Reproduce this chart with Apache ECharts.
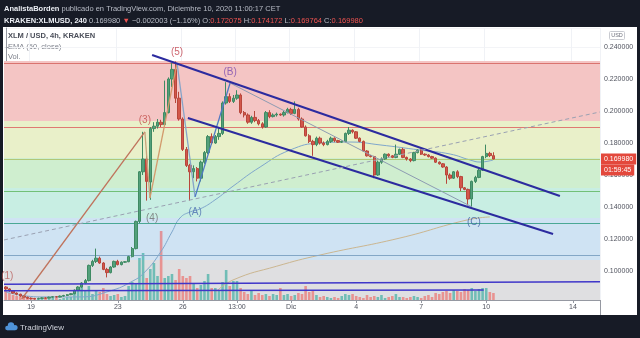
<!doctype html>
<html>
<head>
<meta charset="utf-8">
<script src="https://cdn.jsdelivr.net/npm/echarts@6/dist/echarts.min.js"></script>
<style>
html, body { margin: 0; padding: 0; background: #171b26; }
#main { width: 640px; height: 338px; }
</style>
</head>
<body>
<div id="main"></div>
<script>
var chart = echarts.init(document.getElementById('main'));

// 4h slots, slot 7 = Nov 19 00:00
var SLOT_COUNT = 165;
var Y_MIN = 0.081875, Y_MAX = 0.251875;

var tickSlots = [7, 31, 49, 64, 79, 97, 115, 133, 157];
var tickLabels = ['19', '23', '26', '13:00', 'Dic', '4', '7', '10', '14'];

// [open, close, low, high]
var candles = [
    [.0900,.0888,.0880,.0905],[.0888,.0875,.0870,.0892],[.0875,.0862,.0858,.0880],[.0862,.0855,.0848,.0866],
    [.0855,.0843,.0838,.0858],[.0843,.0836,.0830,.0847],[.0836,.0830,.0826,.0840],[.0830,.0828,.0822,.0835],
    [.0828,.0826,.0822,.0832],[.0826,.0829,.0823,.0833],[.0829,.0832,.0826,.0836],[.0832,.0830,.0827,.0836],
    [.0830,.0836,.0828,.0840],[.0836,.0839,.0833,.0843],[.0839,.0837,.0834,.0843],[.0837,.0843,.0835,.0847],
    [.0843,.0847,.0840,.0851],[.0847,.0852,.0844,.0856],[.0852,.0858,.0849,.0862],[.0858,.0880,.0855,.0885],
    [.0880,.0900,.0875,.0905],[.0900,.0925,.0895,.0930],[.0925,.0940,.0918,.0950],[.0940,.1035,.0935,.1040],
    [.1035,.1060,.1025,.1070],[.1060,.1080,.1050,.1140],[.1080,.1050,.1045,.1090],[.1050,.1010,.1005,.1055],
    [.1010,.0990,.0960,.1020],[.0990,.1025,.0985,.1030],[.1025,.1060,.1020,.1065],[.1060,.1040,.1035,.1070],
    [.1040,.1055,.1035,.1060],[.1055,.1058,.1050,.1062],[.1058,.1090,.1055,.1095],[.1090,.1140,.1085,.1150],
    [.1140,.1310,.1135,.1315],[.1310,.1620,.1300,.1625],[.1620,.1700,.1600,.1870],[.1700,.1560,.1440,.1720],
    [.1556,.1890,.1445,.1900],[.1890,.1905,.1870,.1930],[.1905,.1930,.1890,.1950],[.1930,.1915,.1900,.1945],
    [.1915,.1990,.1905,.2190],[.1990,.2200,.1985,.2210],[.2200,.2260,.2150,.2300],[.2260,.2080,.2050,.2310],
    [.2080,.1950,.1940,.2120],[.1950,.1760,.1750,.1960],[.1760,.1660,.1650,.1775],[.1660,.1620,.1440,.1670],
    [.1620,.1640,.1580,.1660],[.1640,.1580,.1560,.1650],[.1580,.1680,.1560,.1690],[.1680,.1740,.1670,.1750],
    [.1740,.1840,.1730,.1850],[.1840,.1800,.1790,.1860],[.1800,.1840,.1795,.1850],[.1840,.1860,.1820,.1900],
    [.1860,.2050,.1850,.2060],[.2050,.2090,.2040,.2180],[.2090,.2060,.2050,.2110],[.2060,.2080,.2050,.2100],
    [.2080,.2100,.2070,.2130],[.2100,.1990,.1980,.2110],[.1990,.1975,.1960,.2000],[.1975,.1930,.1920,.1985],
    [.1930,.1960,.1920,.1970],[.1960,.1940,.1930,.2000],[.1940,.1920,.1910,.1950],[.1920,.1900,.1890,.1930],
    [.1900,.1990,.1895,.2000],[.1990,.1965,.1955,.2005],[.1965,.1975,.1960,.1985],[.1975,.1980,.1965,.1990],
    [.1980,.1975,.1970,.1985],[.1975,.1990,.1965,.2000],[.1990,.2010,.1985,.2020],[.2010,.1985,.1975,.2020],
    [.1985,.2010,.1980,.2060],[.2010,.1950,.1940,.2020],[.1950,.1900,.1895,.1960],[.1900,.1845,.1840,.1910],
    [.1845,.1810,.1800,.1855],[.1810,.1790,.1720,.1820],[.1790,.1830,.1780,.1840],[.1830,.1800,.1790,.1840],
    [.1800,.1790,.1780,.1810],[.1790,.1810,.1785,.1820],[.1810,.1830,.1800,.1840],[.1830,.1815,.1805,.1835],
    [.1815,.1805,.1800,.1820],[.1805,.1810,.1800,.1815],[.1810,.1860,.1805,.1865],[.1860,.1880,.1850,.1900],
    [.1880,.1870,.1860,.1885],[.1870,.1830,.1825,.1875],[.1830,.1810,.1805,.1835],[.1810,.1750,.1745,.1815],
    [.1750,.1720,.1715,.1755],[.1720,.1715,.1710,.1725],[.1715,.1600,.1580,.1720],[.1600,.1680,.1595,.1690],
    [.1680,.1700,.1670,.1710],[.1700,.1730,.1695,.1735],[.1730,.1720,.1710,.1735],[.1720,.1710,.1705,.1725],
    [.1710,.1730,.1705,.1790],[.1730,.1760,.1725,.1765],[.1760,.1710,.1705,.1770],[.1710,.1700,.1690,.1715],
    [.1700,.1690,.1680,.1705],[.1690,.1740,.1685,.1745],[.1740,.1755,.1735,.1760],[.1755,.1730,.1725,.1760],
    [.1730,.1725,.1720,.1735],[.1725,.1715,.1710,.1730],[.1715,.1705,.1700,.1720],[.1705,.1680,.1675,.1710],
    [.1680,.1670,.1665,.1685],[.1670,.1650,.1645,.1675],[.1650,.1600,.1545,.1655],[.1600,.1580,.1570,.1610],
    [.1580,.1620,.1575,.1625],[.1620,.1590,.1580,.1630],[.1590,.1520,.1500,.1595],[.1520,.1510,.1505,.1525],
    [.1510,.1450,.1410,.1515],[.1450,.1560,.1400,.1565],[.1560,.1585,.1550,.1595],[.1585,.1630,.1580,.1640],
    [.1630,.1715,.1625,.1720],[.1715,.1735,.1705,.1790],[.1735,.1721,.1712,.1745],[.1721,.1700,.1698,.1742]
];

var volumes = [
    9, 7, 5, 4, 3,
    2, 2, 1, 2, 1, 2, 2, 1, 2, 2, 1, 2, 3, 3,
    8, 10, 14, 9, 14,
    6, 10, 8, 12, 6, 4, 5, 6, 3, 4, 14, 18,
    16, 42, 47, 22, 31, 37, 24, 69, 22, 24, 26, 20, 31, 24, 22, 24, 16, 12, 15, 19, 26, 12, 12, 10, 18, 30, 14, 19, 19, 12,
    8, 6, 9, 5, 7, 5, 6, 4, 6, 5, 12, 5, 6, 4, 5, 7, 6, 14, 8, 10,
    5, 3, 4, 3, 2, 3, 2, 4, 6, 5, 6, 4, 3, 2, 5,
    3, 4, 3, 5, 2, 3, 4, 6, 3, 3, 2, 3, 4, 3, 2,
    4, 5, 3, 7, 6, 8, 9, 7, 10, 9, 8, 11,
    10, 12, 9, 11, 12, 12, 8, 7
];

// [slot, price]
var ema50 = [[0,.0869],[9.5,.0838],[20.5,.0838],[28.8,.0875],[35.2,.0938],[38.5,.0994],[42.7,.1113],[46,.1244],
    [48.2,.1331],[51,.1369],[53.8,.1388],[57.9,.1444],[62.9,.1530],[70.4,.1650],[78.7,.1756],[87,.1800],
    [95.3,.1806],[103.6,.1788],[114.7,.1756],[123,.1731],[128.5,.1694],[131.3,.1681],[134.9,.1694]];
var ema200 = [[58.2,.0870],[62.9,.0944],[75,.1030],[87,.1100],[109.1,.1206],[127.7,.1319],[134,.1338]];

// fibonacci retracement levels (0 .. 1)
var fibLevels = [0.2313, 0.1938, 0.1706, 0.1519, 0.1331, 0.1069, 0.0723];

// elliott pivots (1) (3) (4) (5) (A) (B) (C)
var wavePivots = [[4.4,.0825],[38.5,.1869],[39.9,.1456],[47.4,.2300],[52.4,.1463],[62.1,.2175],[129.1,.1400]];
var waveNames = ['(1)', '(3)', '(4)', '(5)', '(A)', '(B)', '(C)'];
var waveLabelAt = [[0.4,.0969],[38.5,.1944],[40.5,.1331],[47.4,.2369],[52.4,.1369],[62.1,.2244],[129.6,.1306]];

var channelUpper = [[40.5,.2350],[153.4,.1469]];
var channelLower = [[50.4,.1956],[151.5,.1231]];
var baseLine1 = [[-0.5,.0917],[164.5,.0933]];
var baseLine2 = [[-0.5,.0877],[132.3,.0881]];
var trendDashed = [[-0.5,.1194],[164.5,.1994]];

var lastPrice = 0.169980;
var countdown = '01:59:45';

// ---- build
var FONT = '"Liberation Sans", Arial, sans-serif';
var fibFills = ['#f4c5c4', '#e9f0c9', '#cfeecf', '#c8eee3', '#cfe3f3', '#dfdfe1'];
var fibLineColors = ['#d9736f', '#df7a72', '#b0c878', '#72c077', '#4aa894', '#83a7c6'];
var waveColors = ['#c0735c', '#c9a37c', '#d39a6c', '#86a4c8', '#4f79c4', '#8d9bb2'];
var waveLabelColors = ['#b85d5a', '#c24e48', '#6e6e6e', '#c23d48', '#4c6fb0', '#7b4bb0', '#3e60a3'];

var slotNames = [];
for (var i = 0; i < SLOT_COUNT; i++) slotNames.push(String(i));
function isTick(idx) { return tickSlots.indexOf(idx) >= 0; }

var volData = volumes.map(function (v, i) {
    var up = candles[i][1] >= candles[i][0];
    return { value: v, itemStyle: { color: up ? 'rgba(38,166,154,0.6)' : 'rgba(239,83,80,0.55)' } };
});

var bandAreas = [];
for (var k = 0; k < fibFills.length; k++) {
    bandAreas.push([
        { yAxis: fibLevels[k], itemStyle: { color: fibFills[k], opacity: 1 } },
        { yAxis: Math.max(fibLevels[k + 1], Y_MIN) }
    ]);
}
var bandLines = fibLineColors.map(function (c, k) {
    return { yAxis: fibLevels[k], lineStyle: { color: c, width: 1, type: 'solid', opacity: 1 } };
});

var straight = [];
for (var w = 0; w < wavePivots.length - 1; w++) {
    straight.push({ coords: [wavePivots[w], wavePivots[w + 1]], lineStyle: { color: waveColors[w], width: w === 5 ? 1 : 1.3, opacity: 1 } });
}
straight.push({ coords: channelUpper, lineStyle: { color: '#2c2b9f', width: 2, opacity: 1 } });
straight.push({ coords: channelLower, lineStyle: { color: '#2c2b9f', width: 2, opacity: 1 } });
straight.push({ coords: baseLine1, lineStyle: { color: '#3f36c9', width: 1.5, opacity: 1 } });
straight.push({ coords: baseLine2, lineStyle: { color: '#3f36c9', width: 1.5, opacity: 1 } });
straight.push({ coords: trendDashed, lineStyle: { color: '#9aa1b2', width: 1, type: [4, 3], opacity: 1 } });

var labelData = waveNames.map(function (n, i) {
    return { name: n, value: waveLabelAt[i], label: { color: waveLabelColors[i] } };
});

chart.setOption({
    backgroundColor: '#171b26',
    animation: false,
    grid: { left: 4, right: 40, top: 28, bottom: 38 },
    xAxis: [{
        type: 'category',
        data: slotNames,
        boundaryGap: true,
        axisLine: { lineStyle: { color: '#9598a1' } },
        axisTick: { show: true, alignWithLabel: true, length: 3, interval: isTick, lineStyle: { color: '#9598a1' } },
        axisLabel: {
            interval: isTick,
            formatter: function (v) { return tickLabels[tickSlots.indexOf(+v)]; },
            color: '#50535e', fontSize: 7, fontFamily: FONT, margin: 4
        },
        splitLine: { show: true, interval: isTick, lineStyle: { color: '#f0f2f6' } }
    }, {
        type: 'value', min: -0.5, max: SLOT_COUNT - 0.5, show: false
    }],
    yAxis: [{
        type: 'value',
        position: 'right',
        min: Y_MIN, max: Y_MAX,
        splitNumber: 8,
        axisLine: { show: true, lineStyle: { color: '#9598a1' } },
        axisTick: { show: true, length: 3, lineStyle: { color: '#9598a1' } },
        axisLabel: {
            showMinLabel: false, showMaxLabel: false,
            formatter: function (v) { return v.toFixed(6); },
            color: '#50535e', fontSize: 7, fontFamily: FONT, margin: 4
        },
        splitLine: { show: true, lineStyle: { color: '#f3f4f7' } }
    }, {
        type: 'value', min: 0, max: 272, show: false
    }],
    graphic: [
        { type: 'rect', z: -100, shape: { x: 3, y: 27, width: 634, height: 288 }, style: { fill: '#ffffff' } },
        { type: 'line', shape: { x1: 600.5, y1: 300, x2: 600.5, y2: 315 }, style: { stroke: '#9598a1', lineWidth: 1 } },
        {
            type: 'text', x: 4, y: 9,
            style: {
                text: '{b|AnalistaBorden} publicado en TradingView.com, Diciembre 10, 2020 11:00:17 CET',
                fill: '#b8bcc6', font: '7.5px ' + FONT, verticalAlign: 'middle',
                rich: { b: { fill: '#eceff5', fontWeight: 'bold', fontSize: 7.5, fontFamily: FONT } }
            }
        },
        {
            type: 'text', x: 4, y: 21,
            style: {
                text: '{b|KRAKEN:XLMUSD, 240} 0.169980 {r|\u25BC} \u22120.002003 (\u22121.16%) O:{r|0.172075} H:{r|0.174172} L:{r|0.169764} C:{r|0.169980}',
                fill: '#b8bcc6', font: '7.5px ' + FONT, verticalAlign: 'middle',
                rich: {
                    b: { fill: '#eceff5', fontWeight: 'bold', fontSize: 7.5, fontFamily: FONT },
                    r: { fill: '#ef5350', fontSize: 7.5, fontFamily: FONT }
                }
            }
        },
        { type: 'text', x: 8, y: 36, style: { text: 'XLM / USD, 4h, KRAKEN', fill: '#4a4e59', font: 'bold 7.5px ' + FONT, verticalAlign: 'middle' } },
        { type: 'text', x: 8, y: 47, style: { text: 'EMA (50, close)', fill: '#7d808b', font: '7.5px ' + FONT, verticalAlign: 'middle' } },
        { type: 'text', x: 8, y: 57, style: { text: 'Vol.', fill: '#7d808b', font: '7.5px ' + FONT, verticalAlign: 'middle' } },
        { type: 'text', x: 8, y: 68, style: { text: 'EMA (200, EMA)', fill: '#7d808b', font: '7.5px ' + FONT, verticalAlign: 'middle' } },
        { type: 'rect', shape: { x: 609.5, y: 31.5, width: 15, height: 8, r: 1 }, style: { fill: '#fff', stroke: '#c8cad0', lineWidth: 1 } },
        { type: 'text', x: 617, y: 35.5, style: { text: 'USD', fill: '#6a6d78', font: '5.5px ' + FONT, align: 'center', verticalAlign: 'middle' } },
        { type: 'circle', shape: { cx: 11, cy: 325.5, r: 3.2 }, style: { fill: '#4f93d8' } },
        { type: 'circle', shape: { cx: 7.5, cy: 328, r: 2.3 }, style: { fill: '#4f93d8' } },
        { type: 'circle', shape: { cx: 15, cy: 327.5, r: 2.6 }, style: { fill: '#4f93d8' } },
        { type: 'rect', shape: { x: 7.5, y: 328, width: 8, height: 2.3 }, style: { fill: '#4f93d8' } },
        { type: 'text', x: 20, y: 328, style: { text: 'TradingView', fill: '#d1d4dc', font: '8px ' + FONT, verticalAlign: 'middle' } }
    ],
    series: [{
        name: 'fib', type: 'line', xAxisIndex: 1, yAxisIndex: 0, z: 1, silent: true,
        data: [[-0.5, Y_MIN]], showSymbol: false, lineStyle: { opacity: 0 },
        markArea: { silent: true, data: bandAreas },
        markLine: { silent: true, symbol: 'none', label: { show: false }, data: bandLines }
    }, {
        name: 'Vol.', type: 'bar', xAxisIndex: 0, yAxisIndex: 1, z: 2, silent: true,
        barWidth: '72%', data: volData
    }, {
        name: 'EMA (200, EMA)', type: 'line', xAxisIndex: 1, yAxisIndex: 0, z: 3, smooth: true,
        showSymbol: false, data: ema200, lineStyle: { color: '#cbb690', width: 1 }
    }, {
        name: 'EMA (50, close)', type: 'line', xAxisIndex: 1, yAxisIndex: 0, z: 3, smooth: true,
        showSymbol: false, data: ema50, lineStyle: { color: '#7fa7cc', width: 1 }
    }, {
        name: 'drawings', type: 'lines', coordinateSystem: 'cartesian2d', xAxisIndex: 1, yAxisIndex: 0,
        z: 6, silent: true, data: straight
    }, {
        name: 'XLMUSD', type: 'candlestick', xAxisIndex: 0, yAxisIndex: 0, z: 5,
        barWidth: '80%', data: candles,
        itemStyle: { color: '#53a07b', color0: '#d3574b', borderColor: '#3f8a63', borderColor0: '#b8463b', borderWidth: 1 },
        markLine: {
            silent: true, symbol: 'none',
            lineStyle: { color: 'rgba(0,0,0,0)' },
            label: { position: 'end', distance: 1, color: '#fff', backgroundColor: '#e3483c', fontSize: 7, fontFamily: FONT, padding: [2, 3, 2, 3] },
            data: [
                { yAxis: lastPrice, label: { formatter: lastPrice.toFixed(6) } },
                { yAxis: lastPrice, label: { formatter: countdown, offset: [0, 11] } }
            ]
        }
    }, {
        name: 'waves', type: 'scatter', xAxisIndex: 1, yAxisIndex: 0, z: 7, silent: true,
        symbolSize: 0, data: labelData,
        label: { show: true, position: 'inside', formatter: '{b}', fontSize: 10, fontFamily: FONT }
    }]
});
</script>
</body>
</html>
